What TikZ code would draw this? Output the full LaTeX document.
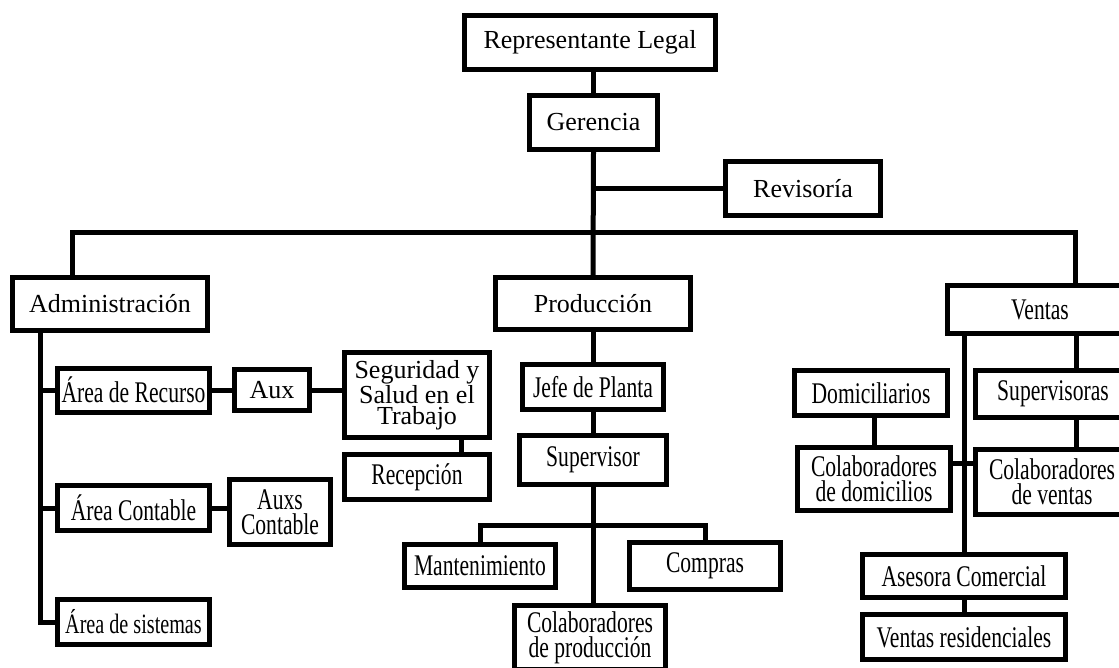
\documentclass[tikz,border=0pt]{standalone}
\usepackage{fontspec}
\setmainfont{Liberation Serif}
\newfontfamily\narrowserif[FakeStretch=0.72]{Liberation Serif}

\begin{document}
\begin{tikzpicture}[x=1pt, y=-1pt,
  box/.style={draw, line width=5pt, inner sep=0pt, align=center, font=\fontsize{26}{21}\selectfont},
  slim/.style={box, font=\narrowserif\fontsize{30}{25}\selectfont},
  link/.style={line width=5pt}]
  \useasboundingbox (0,0) rectangle (1119,667);

  % top
  \node[box, minimum width=251pt, minimum height=54pt] (legal) at (590,42.5) {Representante Legal};
  \node[box, minimum width=128pt, minimum height=54pt] (gerencia) at (593.5,122.5) {Gerencia};
  \node[box, minimum width=155pt, minimum height=54pt] (revisoria) at (803,188.5) {Revisoría};

  % areas
  \node[box, minimum width=195pt, minimum height=53pt] (admin) at (110,304) {Administración};
  \node[box, minimum width=195pt, minimum height=52pt] (produccion) at (593,303.5) {Producción};
  \node[slim, minimum width=185pt, minimum height=48pt] (ventas) at (1040,309.5) {Ventas};

  % administracion
  \node[slim, minimum width=152pt, minimum height=44pt] (recurso) at (133.5,390) {Área de Recurso};
  \node[box, minimum width=75pt, minimum height=41pt] (aux) at (272,390) {Aux};
  \node[box, minimum width=145pt, minimum height=85pt] (seguridad) at (417,395) {Seguridad y\\Salud en el\\Trabajo};
  \node[slim, minimum width=145pt, minimum height=45pt] (recepcion) at (417,477) {Recepción};
  \node[slim, minimum width=152pt, minimum height=45pt] (contable) at (133.5,508) {Área Contable};
  \node[slim, minimum width=101pt, minimum height=65pt] (auxs) at (280,512) {Auxs\\Contable};
  \node[slim, minimum width=152pt, minimum height=45pt, font=\narrowserif\fontsize{28}{25}\selectfont] (sistemas) at (133.5,622) {Área de sistemas};

  % produccion
  \node[slim, minimum width=141pt, minimum height=45pt] (jefe) at (593,387) {Jefe de Planta};
  \node[slim, minimum width=147pt, minimum height=49pt] (supervisor) at (593,460) {Supervisor};
  \node[slim, minimum width=151pt, minimum height=43pt] (mantenimiento) at (480,566) {Mantenimiento};
  \node[slim, minimum width=151pt, minimum height=47pt] (compras) at (705,566) {Compras};
  \node[slim, minimum width=151pt, minimum height=64pt] (colabprod) at (590,637.5) {Colaboradores\\de producción};

  % ventas
  \node[slim, minimum width=153pt, minimum height=45pt] (domiciliarios) at (871,393) {Domiciliarios};
  \node[slim, minimum width=155pt, minimum height=47pt] (supervisoras) at (1053,394) {Supervisoras};
  \node[slim, minimum width=153pt, minimum height=63pt] (colabdom) at (874,479) {Colaboradores\\de domicilios};
  \node[slim, minimum width=153pt, minimum height=65pt] (colabventas) at (1052,482) {Colaboradores\\de ventas};
  \node[slim, minimum width=203pt, minimum height=43pt] (asesora) at (964,576) {Asesora Comercial};
  \node[slim, minimum width=203pt, minimum height=45pt] (residenciales) at (964,637) {Ventas residenciales};

  % helper points
  \coordinate (busL) at (72,232);
  \coordinate (busR) at (1075,232);
  \coordinate (adm) at (40,333);
  \coordinate (sbus) at (593,525);
  \coordinate (vr) at (1076,336);
  \coordinate (vlink) at (964,463);

  % connectors
  \draw[link] (gerencia.north) -- (gerencia.north |- legal.south);
  \draw[link] (gerencia.south) -- (produccion.north);
  \draw[link] (revisoria.west) -- (revisoria.west -| gerencia.south);
  \draw[link] (busL |- admin.north) -- (busL) -- (busR) -- (busR |- ventas.north);

  \draw[link] (adm) -- (adm |- sistemas) -- (sistemas.west);
  \draw[link] (adm |- recurso) -- (recurso.west);
  \draw[link] (adm |- contable) -- (contable.west);
  \draw[link] (recurso.east) -- (aux.west);
  \draw[link] (aux.east) -- (aux.east -| seguridad.west);
  \draw[link] ([xshift=44pt]seguridad.south) -- ([xshift=44pt]recepcion.north);
  \draw[link] (contable.east) -- (contable.east -| auxs.west);

  \draw[link] (produccion.south) -- (jefe.north);
  \draw[link] (jefe.south) -- (supervisor.north);
  \draw[link] (supervisor.south) -- (colabprod.north -| supervisor.south);
  \draw[link] (mantenimiento.north) |- (sbus) -| (compras.north);

  \draw[link] (asesora.north |- ventas.south) -- (asesora.north);
  \draw[link] (vr |- ventas.south) -- (vr |- supervisoras.north);
  \draw[link] (vr |- supervisoras.south) -- (vr |- colabventas.north);
  \draw[link] (colabdom.north) -- (colabdom.north |- domiciliarios.south);
  \draw[link] (colabdom.east |- vlink) -- (colabventas.west |- vlink);
  \draw[link] (asesora.south) -- (residenciales.north);
\end{tikzpicture}
\end{document}
